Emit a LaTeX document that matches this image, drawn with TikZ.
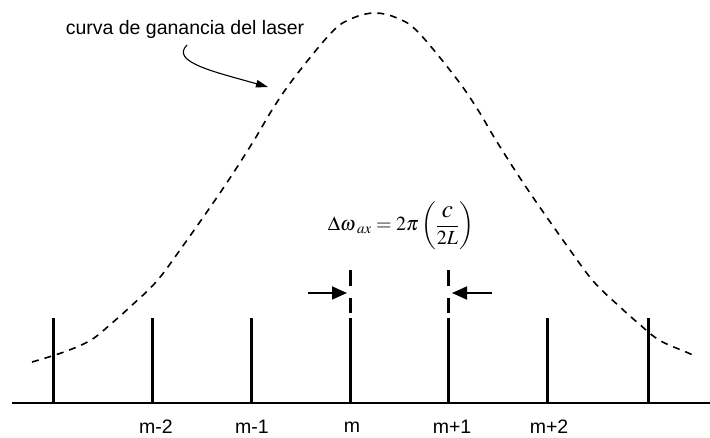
\documentclass[tikz,border=0pt]{standalone}
\usepackage{mathptmx}
\usepackage{fontspec}
\setsansfont{Liberation Sans}
\usetikzlibrary{arrows.meta}
\begin{document}
\begin{tikzpicture}[x=1pt,y=-1pt,
  mode/.style={line width=3pt},
  axisline/.style={line width=2pt},
  gaincurve/.style={line width=1.6pt, dash pattern=on 7pt off 6pt},
  marktip/.style={-{Triangle[length=15pt,width=13pt]}, line width=1.8pt},
  lbl/.style={font=\sffamily\fontsize{19.5}{22}\selectfont, inner sep=0pt},
  pointer/.style={-{Triangle[length=12pt,width=7.5pt]}, line width=1.1pt}]
\useasboundingbox (0,0) rectangle (710,438);
% axis
\coordinate (axL) at (12,403);
\coordinate (axR) at (710,403);
\draw[axisline] (axL) -- (axR);
% modes
\foreach \n/\x in {0/53,1/152,2/251,3/350,4/448,5/547,6/648}{
  \coordinate (b\n) at (\x,403);
  \coordinate (t\n) at (\x,318);
  \draw[mode] (b\n) -- (t\n);
}
% dashed extensions on m and m+1
\foreach \n/\x in {3/350,4/448}{
  \coordinate (ea\n) at (\x,270);
  \coordinate (eb\n) at (\x,286);
  \coordinate (ec\n) at (\x,298);
  \coordinate (ed\n) at (\x,313);
  \draw[mode] (ea\n) -- (eb\n);
  \draw[mode] (ec\n) -- (ed\n);
}
% spacing arrows
\coordinate (la) at (308,293);
\coordinate (lb) at (347,293);
\coordinate (ra) at (492,293);
\coordinate (rb) at (452,293);
\draw[marktip] (la) -- (lb);
\draw[marktip] (ra) -- (rb);
% formula
\node[inner sep=0pt] (eq) at (401,226) {\fontsize{20}{24}\selectfont$\displaystyle\Delta\omega_{\mkern4mu ax} = 2\pi\left(\frac{\mathstrut \mbox{\fontsize{25}{28}\selectfont$c$}}{\mathstrut 2L}\right)$};
% labels
\node[lbl] (m2) at (156,427) {m-2};
\node[lbl] (m1) at (252,427) {m-1};
\node[lbl] (m0) at (352,427) {m};
\node[lbl] (p1) at (452,427) {m+1};
\node[lbl] (p2) at (549,427) {m+2};
% gain curve
\draw[gaincurve] plot[smooth, tension=0.6] coordinates {
 (32,362) (64,352) (91,340) (112,323) (130,307) (156,282) (180,250)
 (222,190) (253,142) (272,110) (294,78) (332,32) (353,18) (375,13)
 (397,18) (418,32) (456,78) (478,110) (497,142) (528,190) (570,250)
 (594,282) (620,307) (638,323) (659,340) (686,352) (693,355)};
% curve label and pointer
\node[lbl] (gl) at (185,29) {curva de ganancia del laser};
\coordinate (arrS) at (187,45);
\coordinate (arrE) at (268,87);
\draw[pointer] (arrS) .. controls (170,62) and (215,72) .. (arrE);
\end{tikzpicture}
\end{document}
